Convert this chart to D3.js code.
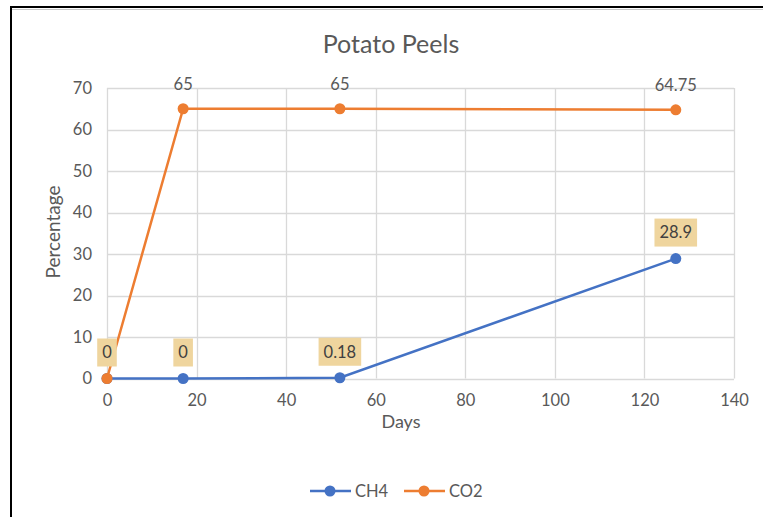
<!DOCTYPE html>
<html>
<head>
<meta charset="utf-8">
<script src="https://cdn.jsdelivr.net/npm/d3@7"></script>
<style>
  body { margin: 0; background: #fff; }
  svg { display: block; font-family: Lato, "Open Sans", sans-serif; }
</style>
</head>
<body>
<svg width="763" height="517"></svg>
<script>
// chart data
var days = [0, 17, 52, 127];
var ch4 = [0, 0, 0.18, 28.9];
var co2 = [0, 65, 65, 64.75];
var ch4Labels = ["0", "0", "0.18", "28.9"];
var co2Labels = ["", "65", "65", "64.75"]; // first one sits under the CH4 box
var xTicks = [0, 20, 40, 60, 80, 100, 120, 140];
var yTicks = [0, 10, 20, 30, 40, 50, 60, 70];

var blue = "#4472C4", orange = "#ED7D31", grey = "#595959";

var svg = d3.select("svg");

// outer chart border (only top and left visible)
svg.append("rect")
  .attr("x", 11).attr("y", 7)
  .attr("width", 800).attr("height", 600)
  .attr("fill", "none").attr("stroke", "#000").attr("stroke-width", 2);
svg.append("line")
  .attr("x1", 12).attr("x2", 763).attr("y1", 9.5).attr("y2", 9.5)
  .attr("stroke", "#c8c8c8").attr("stroke-width", 1);

var x = d3.scaleLinear().domain([0, 140]).range([107, 734]);
var y = d3.scaleLinear().domain([0, 70]).range([378.5, 88]);

// gridlines
svg.append("g")
  .selectAll("line.h")
  .data(yTicks)
  .enter().append("line")
    .attr("x1", x(0)).attr("x2", x(140))
    .attr("y1", function(d){ return Math.round(y(d)) + 0.5; })
    .attr("y2", function(d){ return Math.round(y(d)) + 0.5; })
    .attr("stroke", "#d9d9d9").attr("stroke-width", 1.3);
svg.append("g")
  .selectAll("line.v")
  .data(xTicks)
  .enter().append("line")
    .attr("y1", y(0)).attr("y2", y(70))
    .attr("x1", function(d){ return Math.round(x(d)) + 0.5; })
    .attr("x2", function(d){ return Math.round(x(d)) + 0.5; })
    .attr("stroke", "#d9d9d9").attr("stroke-width", 1.3);

// axes (labels only)
var xAxis = svg.append("g")
  .attr("transform", "translate(0," + y(0) + ")")
  .call(d3.axisBottom(x).tickValues(xTicks).tickSize(0).tickPadding(16));
var yAxis = svg.append("g")
  .attr("transform", "translate(" + x(0) + ",0)")
  .call(d3.axisLeft(y).tickValues(yTicks).tickSize(0).tickPadding(15));
[xAxis, yAxis].forEach(function(a){
  a.select(".domain").remove();
  a.selectAll("text")
    .style("font-family", "Lato, 'Open Sans', sans-serif")
    .style("font-size", "16.5px")
    .attr("fill", grey);
});

// titles
svg.append("text")
  .attr("x", 391).attr("y", 53)
  .attr("text-anchor", "middle")
  .attr("font-size", 25)
  .attr("fill", grey)
  .text("Potato Peels");
svg.append("text")
  .attr("x", 401).attr("y", 428)
  .attr("text-anchor", "middle")
  .attr("font-size", 18)
  .attr("fill", grey)
  .text("Days");
svg.append("text")
  .attr("transform", "translate(60,232) rotate(-90)")
  .attr("text-anchor", "middle")
  .attr("font-size", 19)
  .attr("fill", grey)
  .text("Percentage");

// series
var line = d3.line()
  .x(function(d){ return x(d[0]); })
  .y(function(d){ return y(d[1]); });

function drawSeries(vals, color){
  var pts = days.map(function(d, i){ return [d, vals[i]]; });
  svg.append("path")
    .datum(pts)
    .attr("d", line)
    .attr("fill", "none")
    .attr("stroke", color)
    .attr("stroke-width", 2.5);
  svg.append("g")
    .selectAll("circle")
    .data(pts)
    .enter().append("circle")
      .attr("cx", function(d){ return x(d[0]); })
      .attr("cy", function(d){ return y(d[1]); })
      .attr("r", 5.5)
      .attr("fill", color);
}
drawSeries(ch4, blue);
drawSeries(co2, orange);

// CO2 labels (plain)
svg.append("g")
  .selectAll("text")
  .data(days.filter(function(d, i){ return co2Labels[i] !== ""; }))
  .enter().append("text")
    .attr("x", function(d){ return x(d); })
    .attr("y", function(d){ return y(co2[days.indexOf(d)]) - 19; })
    .attr("text-anchor", "middle")
    .attr("font-size", 16.5)
    .attr("fill", grey)
    .text(function(d){ return co2Labels[days.indexOf(d)]; });

// CH4 labels (tan boxes)
var lab = svg.append("g")
  .selectAll("g")
  .data(days)
  .enter().append("g")
    .attr("transform", function(d, i){
      return "translate(" + x(d) + "," + (y(ch4[i]) - 26) + ")";
    });
lab.append("text")
  .attr("text-anchor", "middle")
  .attr("dy", "0.35em")
  .attr("font-size", 16.5)
  .attr("fill", "#404040")
  .text(function(d, i){ return ch4Labels[i]; })
  .each(function(){
    var w = this.getComputedTextLength() + 10;
    d3.select(this.parentNode).insert("rect", "text")
      .attr("x", -w / 2).attr("y", -14)
      .attr("width", w).attr("height", 28)
      .attr("fill", "#efd59e");
  });

// legend
var legend = [["CH4", blue, 330], ["CO2", orange, 424]];
legend.forEach(function(l){
  var g = svg.append("g").attr("transform", "translate(" + l[2] + ",491)");
  g.append("line").attr("x1", -20).attr("x2", 21)
    .attr("stroke", l[1]).attr("stroke-width", 2.5);
  g.append("circle").attr("r", 5.5).attr("fill", l[1]);
  g.append("text").attr("x", 25).attr("dy", "0.35em")
    .attr("font-size", 16.5).attr("fill", grey).text(l[0]);
});
</script>
</body>
</html>
